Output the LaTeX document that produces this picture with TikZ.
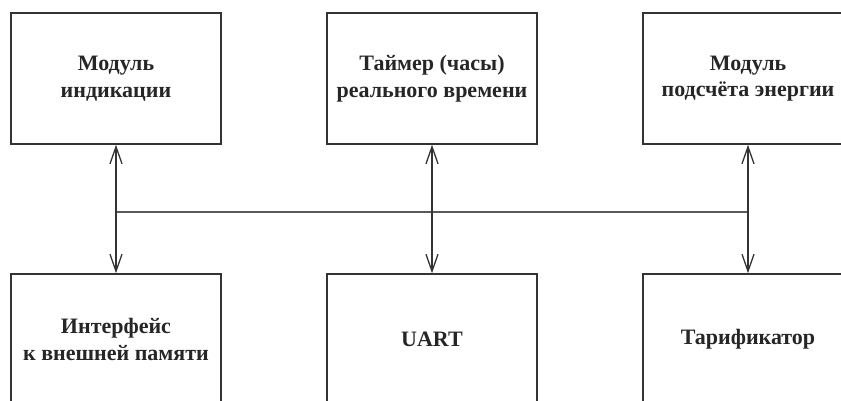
\documentclass[tikz,border=0pt]{standalone}
\usepackage{fontspec}
\setmainfont{Liberation Serif}
\usetikzlibrary{arrows.meta}
\begin{document}
\begin{tikzpicture}[x=1pt,y=-1pt,
  blk/.style={draw=black!80, line width=1.6pt, minimum width=210pt, minimum height=131pt,
    inner sep=0pt, align=center, font=\fontsize{22}{26.5}\selectfont\bfseries, text=black!85},
  link/.style={draw=black!80, line width=1.3pt, {Straight Barb[length=17pt,width=12pt,line width=1.3pt]}-{Straight Barb[length=17pt,width=12pt,line width=1.3pt]}},
  bus/.style={draw=black!65, line width=1.8pt}]
\useasboundingbox (0,0) rectangle (841,401);
\node[blk] (t1) at (116,78.5) {Модуль\\индикации};
\node[blk] (t2) at (432,78.5) {Таймер (часы)\\реального времени};
\node[blk] (t3) at (748,78.5) {Модуль\\подсчёта энергии};
\node[blk] (b1) at (116,339.5) {Интерфейс\\к внешней памяти};
\node[blk] (b2) at (432,339.5) {UART};
\node[blk] (b3) at (748,339.5) {Тарификатор};
\coordinate (busy) at (0,212);
\draw[bus] (t1.south |- busy) -- (t3.south |- busy);
\draw[link] (t1.south) -- (b1.north);
\draw[link] (t2.south) -- (b2.north);
\draw[link] (t3.south) -- (b3.north);
\end{tikzpicture}
\end{document}
